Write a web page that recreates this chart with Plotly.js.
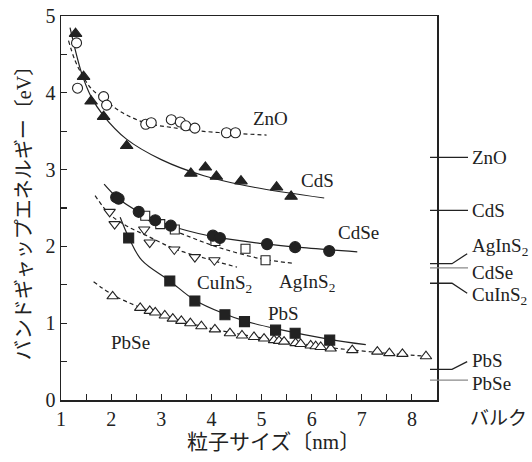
<!DOCTYPE html>
<html>
<head>
<meta charset="utf-8">
<script src="https://cdn.plot.ly/plotly-3.0.1.min.js"></script>
<style>html,body{margin:0;padding:0;background:#fff;}#chart{width:532px;height:462px;}</style>
</head>
<body>
<div id="chart"></div>
<script>
// ---- data ----
const znoX = [1.31,1.33,1.85,1.91,2.69,2.80,3.20,3.38,3.49,3.67,4.30,4.48];
const znoY = [4.65,4.06,3.95,3.84,3.59,3.61,3.65,3.62,3.57,3.54,3.48,3.48];
const znoFitX = [1.15,1.28,1.45,1.61,1.85,2.2,2.68,3.2,3.81,4.5,5.1];
const znoFitY = [4.68,4.42,4.20,4.05,3.92,3.75,3.61,3.55,3.50,3.47,3.45];

const cdsX = [1.29,1.45,1.60,1.85,2.31,3.59,3.88,4.10,4.59,5.30,5.59];
const cdsY = [4.77,4.21,3.89,3.69,3.31,2.95,3.03,2.91,2.85,2.77,2.65];
const cdsFitX = [1.18,1.41,1.6,1.85,2.3,3.0,3.85,4.85,6.25];
const cdsFitY = [4.85,4.26,3.95,3.70,3.40,3.13,2.92,2.77,2.63];

const cdseX = [2.10,2.15,2.55,2.88,3.19,4.03,4.17,5.11,5.67,6.35];
const cdseY = [2.64,2.62,2.45,2.34,2.27,2.14,2.11,2.03,1.99,1.94];
const cdseFitX = [1.86,2.13,2.55,2.88,3.38,4.1,4.98,5.9,6.91];
const cdseFitY = [2.81,2.63,2.45,2.35,2.23,2.12,2.04,1.98,1.93];

const agX = [2.68,2.98,3.27,4.08,4.68,5.08];
const agY = [2.40,2.29,2.22,2.07,1.97,1.82];
const agFitX = [2.48,2.98,3.31,4.08,4.98,5.65];
const agFitY = [2.42,2.27,2.19,2.00,1.84,1.78];

const cuX = [1.97,2.07,2.66,2.77,3.26,3.67,4.06];
const cuY = [2.45,2.29,2.22,2.05,1.96,1.86,1.82];
const cuFitX = [1.68,1.97,2.3,2.71,3.26,3.9,4.51];
const cuFitY = [2.66,2.42,2.27,2.14,1.97,1.84,1.73];

const pbsX = [2.35,3.17,3.67,4.27,4.66,5.28,5.67,6.36];
const pbsY = [2.11,1.55,1.29,1.11,1.02,0.91,0.87,0.78];
const pbsFitX = [2.18,2.35,2.61,3.17,3.67,4.27,4.66,5.28,6.36,7.08];
const pbsFitY = [2.38,2.12,1.82,1.55,1.30,1.12,1.03,0.93,0.79,0.72];

const pbseX = [2.03,2.58,2.77,2.88,3.07,3.23,3.40,3.58,3.80,4.07,4.37,4.61,4.85,5.05,5.25,5.35,5.45,5.68,5.78,5.98,6.08,6.18,6.38,6.81,7.31,7.55,7.81,8.28];
const pbseY = [1.35,1.20,1.16,1.14,1.10,1.06,1.03,1.00,0.96,0.92,0.87,0.84,0.82,0.80,0.78,0.77,0.76,0.74,0.73,0.71,0.70,0.69,0.67,0.65,0.63,0.61,0.60,0.57];
const pbseFitX = [1.65,2.03,2.6,3.2,4.0,4.8,5.6,6.4,7.3,8.28];
const pbseFitY = [1.54,1.37,1.20,1.07,0.93,0.83,0.75,0.68,0.62,0.57];

const bulkNames = ['ZnO','CdS','AgInS<sub>2</sub>','CdSe','CuInS<sub>2</sub>','PbS','PbSe'];
const bulkGap = [3.16,2.47,1.775,1.72,1.52,0.40,0.26];

const xTitle = '粒子サイズ〔nm〕';
const yTitle = 'バンドギャップエネルギー〔eV〕';
const bulkText = 'バルク';

// ---- styles ----
const INK = '#222';
const GRAY = '#8a8a8a';
const FONT = '"Liberation Serif", "DejaVu Serif", serif';
const JFONT = '"Liberation Serif", "Noto Sans CJK JP", serif';

function marks(x, y, symbol, size, filled) {
  return {x: x, y: y, type: 'scatter', mode: 'markers', cliponaxis: false,
    marker: {symbol: symbol, size: size, color: filled ? INK : '#fff',
             line: {color: INK, width: 1.1}}};
}
function fit(x, y, dashed) {
  return {x: x, y: y, type: 'scatter', mode: 'lines',
    line: {color: INK, width: 1.2, shape: 'spline', smoothing: 1.0, dash: dashed ? '4px,3px' : 'solid'}};
}

const traces = [
  fit(znoFitX, znoFitY, true),
  fit(cdsFitX, cdsFitY, false),
  fit(cdseFitX, cdseFitY, false),
  fit(agFitX, agFitY, true),
  fit(cuFitX, cuFitY, true),
  fit(pbsFitX, pbsFitY, false),
  fit(pbseFitX, pbseFitY, true),
  marks(znoX, znoY, 'circle', 10, false),
  marks(cdsX, cdsY, 'triangle-up', 11, true),
  marks(agX, agY, 'square', 9, false),
  marks(cuX, cuY, 'triangle-down', 10, false),
  marks(pbseX, pbseY, 'triangle-up', 10, false),
  marks(cdseX, cdseY, 'circle', 11, true),
  marks(pbsX, pbsY, 'square', 10, true)
];

// bulk leader lines on a narrow helper axis at the right
// null = straight tick, otherwise the y where the slanted leader ends
const leaderEnd = [null, null, 1.905, null, 1.39, 0.50, null];
const bulkColor = [INK, INK, INK, GRAY, INK, INK, GRAY];
const labelY = [3.16, 2.47, 1.99, 1.66, 1.36, 0.52, 0.22];
bulkGap.forEach((g, i) => {
  let xs, ys;
  if (leaderEnd[i] === null) { xs = [0, 0.95]; ys = [g, g]; }
  else { xs = [0, 0.55, 0.93]; ys = [g, g, leaderEnd[i]]; }
  traces.push({x: xs, y: ys, xaxis: 'x2', yaxis: 'y', type: 'scatter', mode: 'lines',
    line: {color: bulkColor[i], width: 1.3}, cliponaxis: false});
});

// in-plot labels (left edge, middle)
const inLabels = [
  ['ZnO', 4.78, 3.66], ['CdS', 5.74, 2.86], ['CdSe', 6.48, 2.18],
  ['AgInS<sub>2</sub>', 5.31, 1.52], ['CuInS<sub>2</sub>', 3.68, 1.51],
  ['PbS', 5.08, 1.13], ['PbSe', 1.95, 0.75]
];
const annotations = inLabels.map(l => ({
  text: l[0], x: l[1], y: l[2], xref: 'x', yref: 'y', xanchor: 'left', yanchor: 'middle',
  showarrow: false, font: {family: FONT, size: 19, color: INK}
}));
bulkNames.forEach((n, i) => annotations.push({
  text: n, x: 1, y: labelY[i], xref: 'x2', yref: 'y', xanchor: 'left', yanchor: 'middle',
  xshift: 0, showarrow: false, font: {family: FONT, size: 19, color: INK}
}));
annotations.push({text: bulkText, xref: 'paper', yref: 'paper', x: 1.07, y: 0, yshift: -18,
  xanchor: 'center', yanchor: 'middle', showarrow: false,
  font: {family: JFONT, size: 19, color: INK}});
// x-axis title under the main axis
annotations.push({text: xTitle, xref: 'paper', yref: 'paper', x: 0.52, y: 0, yshift: -42,
  xanchor: 'center', yanchor: 'middle', showarrow: false,
  font: {family: JFONT, size: 21, color: INK}});

const W = 409; // plot area width in px (61 -> 470)
const layout = {
  width: 532, height: 462,
  margin: {l: 61, r: 62, t: 16, b: 62, pad: 0},
  paper_bgcolor: '#fff', plot_bgcolor: 'rgba(0,0,0,0)',
  showlegend: false,
  font: {family: FONT, color: INK},
  xaxis: {
    domain: [0, 376 / W], range: [1, 8.5], tick0: 1, dtick: 1,
    ticks: 'inside', ticklen: 6, tickwidth: 1.1, tickcolor: INK,
    minor: {tick0: 1, dtick: 0.5, ticks: 'inside', ticklen: 6, tickwidth: 1.1, tickcolor: INK},
    showline: true, linecolor: INK, linewidth: 1.5, mirror: true,
    showgrid: false, zeroline: false,
    tickfont: {family: FONT, size: 20, color: INK}
  },
  xaxis2: {domain: [369 / W, 1], range: [0, 1], anchor: 'y', visible: false, fixedrange: true},
  yaxis: {
    range: [0, 5], tick0: 0, dtick: 1,
    ticks: 'inside', ticklen: 6, tickwidth: 1.1, tickcolor: INK,
    minor: {tick0: 0, dtick: 0.5, ticks: 'inside', ticklen: 6, tickwidth: 1.1, tickcolor: INK},
    showline: true, linecolor: INK, linewidth: 1.5, mirror: true,
    showgrid: false, zeroline: false,
    tickfont: {family: FONT, size: 20, color: INK},
    title: {text: yTitle, font: {family: JFONT, size: 20, color: INK}, standoff: 8}
  },
  annotations: annotations
};

Plotly.newPlot('chart', traces, layout, {staticPlot: true, displayModeBar: false});
</script>
</body>
</html>
